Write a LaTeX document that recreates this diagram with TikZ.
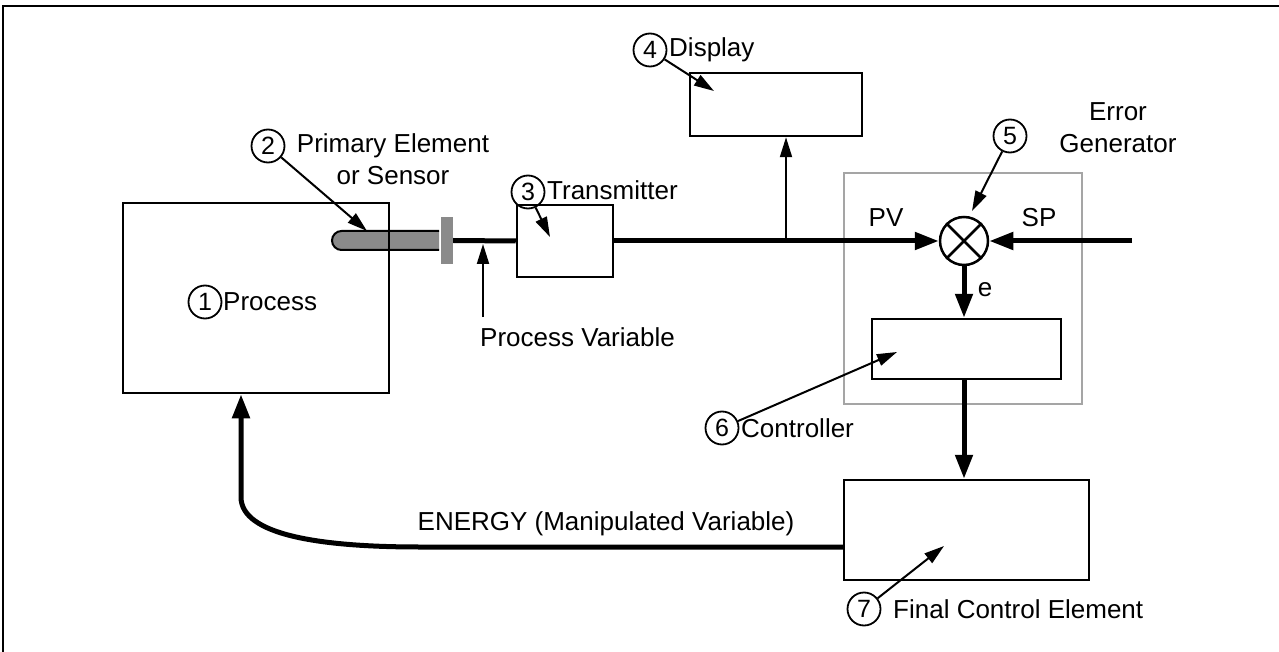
\documentclass[tikz,border=0pt]{standalone}
\usepackage{fontspec}
\setmainfont{Liberation Sans}
\usetikzlibrary{arrows.meta,positioning}
\definecolor{sensorgray}{RGB}{138,138,138}
\definecolor{framegray}{RGB}{165,165,165}

\begin{document}
\begin{tikzpicture}[x=1pt,y=-1pt]
\tikzset{
  blockbox/.style={rectangle,draw,line width=2.5pt,inner sep=0pt},
  numcirc/.style={circle,draw,line width=1.8pt,minimum size=33pt,inner sep=0pt,font=\fontsize{25}{25}\selectfont},
  lbl/.style={inner sep=0pt,font=\fontsize{26}{32}\selectfont},
  mainline/.style={line width=5pt},
  thickarrow/.style={-{Triangle[length=24pt,width=17pt]},line width=5pt},
  thinarrow/.style={-{Triangle[length=20pt,width=12pt]},line width=2pt}
}
\useasboundingbox (0,0) rectangle (1279,652);
\draw[line width=2pt] (3,652) -- (3,6) -- (1279,6);

% sensor and flange
\filldraw[fill=sensorgray,line width=2pt,rounded corners=9.5pt] (439,231) -- (332,231) -- (332,250) -- (439,250);
\node[fill=sensorgray,minimum width=12pt,minimum height=47pt,inner sep=0pt] (b_flange) at (447,240.5) {};

% blocks
\node[blockbox,minimum width=266pt,minimum height=190pt] (b_process) at (256,298) {};
\node[blockbox,minimum width=96pt,minimum height=72pt] (b_xmtr) at (565,241) {};
\node[blockbox,minimum width=172pt,minimum height=63pt] (b_display) at (776,104.5) {};
\node[rectangle,draw=framegray,line width=2.5pt,minimum width=238pt,minimum height=231pt] (b_errgen) at (963,288.5) {};
\node[blockbox,minimum width=189pt,minimum height=60pt] (b_ctrl) at (966.5,349) {};
\node[blockbox,minimum width=245pt,minimum height=100pt] (b_fce) at (966.5,530) {};
\node[circle,draw,line width=2.5pt,minimum size=48pt,inner sep=0pt] (j_sum) at (964,241) {};
\draw[line width=2.5pt] (j_sum.45) -- (j_sum.225) (j_sum.135) -- (j_sum.315);

% numbered labels
\node[numcirc] (c_one) at (205,302) {1};
\node[lbl,anchor=west] (t_one) at (223,302) {Process};
\node[numcirc] (c_two) at (268,146) {2};
\node[lbl,align=center] (t_two) at (393,159) {Primary Element\\or Sensor};
\node[numcirc] (c_three) at (528,192) {3};
\node[lbl,anchor=west] (t_three) at (547,190) {Transmitter};
\node[numcirc] (c_four) at (650,50) {4};
\node[lbl,anchor=west] (t_four) at (669,50) {Display};
\node[numcirc] (c_five) at (1010,136) {5};
\node[lbl,align=center] (t_five) at (1118,128) {Error\\Generator};
\node[numcirc] (c_six) at (722,428) {6};
\node[lbl,anchor=west] (t_six) at (741,428) {Controller};
\node[numcirc] (c_seven) at (864,609) {7};
\node[lbl,anchor=west] (t_seven) at (893,609) {Final Control Element};

\node[lbl] (t_pv) at (886,218) {PV};
\node[lbl] (t_sp) at (1039,218) {SP};
\node[lbl] (t_e) at (985,290) {e};
\node[lbl,anchor=west] (t_pvar) at (480,337) {Process Variable};
\node[lbl] (t_energy) at (606,524) {ENERGY (Manipulated Variable)};

% pointer tips
\coordinate (p_probe) at (367,231);
\coordinate (p_xmtr) at (550,237);
\coordinate (p_display) at (714,91);
\coordinate (p_sum) at (972,211);
\coordinate (p_ctrl) at (897,352);
\coordinate (p_fce) at (944,546);
\draw[thinarrow] (c_two) -- (p_probe);
\draw[thinarrow] (c_three) -- (p_xmtr);
\draw[thinarrow] (c_four) -- (p_display);
\draw[thinarrow] (c_five) -- (p_sum);
\draw[thinarrow] (c_six) -- (p_ctrl);
\draw[thinarrow] (c_seven) -- (p_fce);

% signal lines
\coordinate (p_pvtail) at (483,317);
\coordinate (p_pvtip) at (483,244);
\coordinate (p_branch) at (786,241);
\coordinate (p_sp) at (1132,241);
\draw[mainline] (b_flange.east) -- (b_xmtr.west);
\draw[thinarrow] (p_pvtail) -- (p_pvtip);
\draw[thickarrow] (b_xmtr.east) -- (j_sum.west);
\draw[thinarrow] (p_branch) -- (p_branch |- b_display.south);
\draw[thickarrow] (p_sp) -- (j_sum.east);
\draw[thickarrow] (j_sum.south) -- (j_sum.south |- b_ctrl.north);
\draw[thickarrow] (j_sum.south |- b_ctrl.south) -- (j_sum.south |- b_fce.north);
\draw[thickarrow] ([yshift=-17pt]b_fce.west) -- (420,547) .. controls (320,547) and (241,535) .. (241,497) -- ([xshift=-15pt]b_process.south);
\end{tikzpicture}
\end{document}
